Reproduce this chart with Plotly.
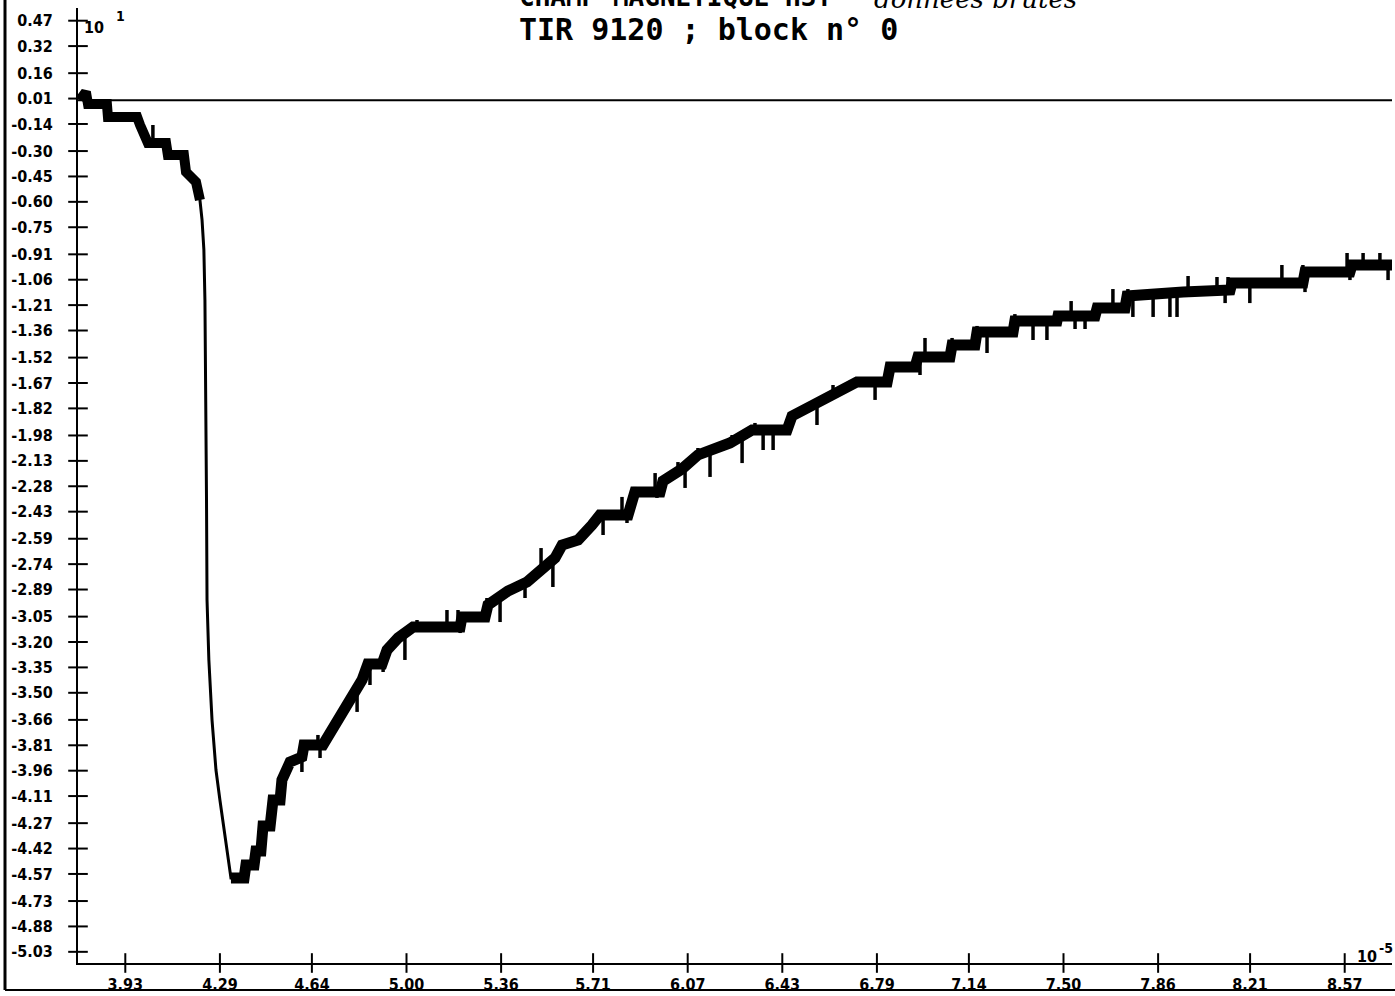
import numpy as np
import plotly.graph_objects as go

# ---- data (time in 10^-5 units, field in 10^1 units) ----
time_vals = [3.758, 3.780, 3.788, 3.860, 3.864, 3.975, 3.986, 4.016, 4.085, 4.092,
             4.153, 4.161, 4.199, 4.214, 4.222, 4.229, 4.233, 4.237, 4.239, 4.241,
             4.248, 4.260, 4.275, 4.290, 4.306, 4.321, 4.332, 4.382, 4.389, 4.420,
             4.427, 4.446, 4.454, 4.481, 4.492, 4.519, 4.526, 4.557, 4.602, 4.610,
             4.682, 4.720, 4.755, 4.785, 4.815, 4.831, 4.853, 4.907, 4.926, 4.968,
             5.025, 5.204, 5.211, 5.299, 5.310, 5.386, 5.459, 5.508, 5.565, 5.592,
             5.653, 5.706, 5.736, 5.843, 5.869, 5.965, 5.976, 6.048, 6.109, 6.231,
             6.315, 6.448, 6.467, 6.547, 6.650, 6.714, 6.829, 6.840, 6.935, 6.946,
             7.068, 7.076, 7.163, 7.171, 7.308, 7.315, 7.475, 7.479, 7.620, 7.628,
             7.734, 7.742, 7.955, 8.134, 8.141, 8.411, 8.419, 8.590, 8.598, 8.750]
field_vals = [0.002, 0.049, -0.022, -0.022, -0.099, -0.099, -0.146, -0.252, -0.252, -0.323,
              -0.323, -0.424, -0.483, -0.589, -0.707, -0.884, -1.180, -1.770, -2.361, -2.952,
              -3.306, -3.661, -3.956, -4.133, -4.310, -4.487, -4.594, -4.594, -4.517, -4.517,
              -4.435, -4.435, -4.287, -4.287, -4.133, -4.133, -4.015, -3.909, -3.879, -3.808,
              -3.808, -3.708, -3.631, -3.554, -3.483, -3.424, -3.330, -3.330, -3.247, -3.176,
              -3.111, -3.111, -3.052, -3.052, -2.981, -2.899, -2.845, -2.774, -2.704, -2.627,
              -2.597, -2.509, -2.450, -2.450, -2.314, -2.314, -2.249, -2.178, -2.095, -2.024,
              -1.948, -1.948, -1.865, -1.800, -1.723, -1.664, -1.664, -1.576, -1.576, -1.516,
              -1.516, -1.446, -1.446, -1.369, -1.369, -1.304, -1.304, -1.274, -1.274, -1.227,
              -1.227, -1.156, -1.133, -1.121, -1.079, -1.079, -1.014, -1.014, -0.973, -0.973]

# noise spikes: time and tip value of each glitch
spike_time = [4.035, 4.602, 4.614, 4.663, 4.671, 4.796, 4.812, 4.861, 4.911, 4.994,
              5.040, 5.154, 5.196, 5.204, 5.306, 5.356, 5.451, 5.512, 5.557, 5.748,
              5.820, 5.839, 5.869, 5.946, 5.953, 6.033, 6.060, 6.109, 6.155, 6.239,
              6.277, 6.326, 6.357, 6.395, 6.562, 6.623, 6.783, 6.954, 6.973, 7.076,
              7.171, 7.209, 7.315, 7.384, 7.437, 7.529, 7.544, 7.582, 7.688, 7.745,
              7.764, 7.841, 7.905, 7.932, 7.974, 8.084, 8.115, 8.126, 8.209, 8.331,
              8.411, 8.419, 8.579, 8.590, 8.640, 8.704, 8.735]
spike_tip = [-0.146, -3.968, -3.820, -3.749, -3.885, -3.525, -3.613, -3.454, -3.377, -3.306,
             -3.070, -3.011, -3.011, -3.147, -2.940, -3.082, -2.940, -2.645, -2.875, -2.568,
             -2.343, -2.497, -2.284, -2.202, -2.349, -2.137, -2.290, -2.054, -2.225, -1.977,
             -2.143, -1.906, -2.066, -2.066, -1.918, -1.682, -1.770, -1.623, -1.404, -1.404,
             -1.333, -1.493, -1.263, -1.416, -1.416, -1.186, -1.351, -1.351, -1.115, -1.115,
             -1.280, -1.280, -1.280, -1.280, -1.038, -1.044, -1.198, -1.044, -1.198, -0.973,
             -0.973, -1.133, -0.902, -1.062, -0.902, -0.902, -1.062]

x_tick_labels = ["3.93", "4.29", "4.64", "5.00", "5.36", "5.71", "6.07", "6.43",
                 "6.79", "7.14", "7.50", "7.86", "8.21", "8.57"]
y_tick_labels = ["0.47", "0.32", "0.16", "0.01", "-0.14", "-0.30", "-0.45", "-0.60",
                 "-0.75", "-0.91", "-1.06", "-1.21", "-1.36", "-1.52", "-1.67", "-1.82",
                 "-1.98", "-2.13", "-2.28", "-2.43", "-2.59", "-2.74", "-2.89", "-3.05",
                 "-3.20", "-3.35", "-3.50", "-3.66", "-3.81", "-3.96", "-4.11", "-4.27",
                 "-4.42", "-4.57", "-4.73", "-4.88", "-5.03"]

title_line1 = "CHAMP MAGNETIQUE H3T -"
title_hand = "données brutes"
title_line2 = "TIR 9120 ; block n° 0"

# ---- layout constants ----
W, H = 1395, 996
ML, MR, MT, MB = 78, 3, 8, 33
X_RANGE = [3.75, 8.75]
Y_RANGE = [-5.096, 0.545]
PW, PH = W - ML - MR, H - MT - MB


def px(xp):
    return (xp - ML) / PW


def py(yp):
    return (H - MB - yp) / PH


xt = [float(s) for s in x_tick_labels]
yt = [float(s) for s in y_tick_labels]

TICKFONT = dict(family="Liberation Sans Narrow, DejaVu Sans Condensed, sans-serif",
                size=16, color="black", weight="bold")

fig = go.Figure()

# thin main curve
fig.add_trace(go.Scatter(x=time_vals, y=field_vals, mode="lines",
                         line=dict(color="black", width=3), hoverinfo="skip",
                         showlegend=False))
# thick noisy (quantised) bands
fig.add_trace(go.Scatter(x=time_vals[:14], y=field_vals[:14], mode="lines",
                         line=dict(color="black", width=10), hoverinfo="skip",
                         showlegend=False))
fig.add_trace(go.Scatter(x=time_vals[26:], y=field_vals[26:], mode="lines",
                         line=dict(color="black", width=11), hoverinfo="skip",
                         showlegend=False))

# glitch spikes, each from the curve to its tip
base = np.interp(spike_time, time_vals, field_vals)
sx, sy = [], []
for t, b, tip in zip(spike_time, base, spike_tip):
    sx += [t, t, None]
    sy += [b, tip, None]
fig.add_trace(go.Scatter(x=sx, y=sy, mode="lines", line=dict(color="black", width=3.5),
                         hoverinfo="skip", showlegend=False, connectgaps=False))

# cross ticks
fig.add_trace(go.Scatter(x=xt, y=[Y_RANGE[0]] * len(xt), mode="markers",
                         marker=dict(symbol="line-ns", size=14,
                                     line=dict(color="black", width=2)),
                         cliponaxis=False, hoverinfo="skip", showlegend=False))
fig.add_trace(go.Scatter(x=[X_RANGE[0]] * len(yt), y=yt, mode="markers",
                         marker=dict(symbol="line-ew", size=14,
                                     line=dict(color="black", width=2)),
                         cliponaxis=False, hoverinfo="skip", showlegend=False))

# zero line
fig.add_shape(type="line", xref="x", yref="y", x0=X_RANGE[0], x1=X_RANGE[1],
              y0=0, y1=0, line=dict(color="black", width=2))

# outer frame (left and bottom)
fig.add_shape(type="line", xref="paper", yref="paper", x0=px(5), x1=px(5),
              y0=py(990), y1=py(0), line=dict(color="black", width=3))
fig.add_shape(type="line", xref="paper", yref="paper", x0=px(5), x1=px(1395),
              y0=py(990), y1=py(990), line=dict(color="black", width=2))

SMALL = "Liberation Sans Narrow, DejaVu Sans Condensed"
ann = []
ann.append(dict(text=title_line1, x=px(517), y=py(-3), xanchor="left", yanchor="middle",
                font=dict(family="DejaVu Sans Mono", size=26, color="black", weight="bold")))
ann.append(dict(text=title_hand, x=px(872), y=py(-1), xanchor="left", yanchor="middle",
                font=dict(family="DejaVu Serif", size=26, color="black", style="italic")))
ann.append(dict(text=title_line2, x=px(517), y=py(30), xanchor="left", yanchor="middle",
                font=dict(family="DejaVu Sans Mono", size=30, color="black", weight="bold")))
ann.append(dict(text="10", x=px(82), y=py(27), xanchor="left", yanchor="middle",
                font=dict(family=SMALL, size=16, color="black", weight="bold")))
ann.append(dict(text="1", x=px(114), y=py(16), xanchor="left", yanchor="middle",
                font=dict(family=SMALL, size=14, color="black", weight="bold")))
ann.append(dict(text="10", x=px(1355), y=py(956), xanchor="left", yanchor="middle",
                font=dict(family=SMALL, size=16, color="black", weight="bold")))
ann.append(dict(text="-5", x=px(1377), y=py(948), xanchor="left", yanchor="middle",
                font=dict(family=SMALL, size=14, color="black", weight="bold")))
for a in ann:
    a.update(xref="paper", yref="paper", showarrow=False)
fig.update_layout(annotations=ann)

fig.update_layout(
    width=W, height=H,
    margin=dict(l=ML, r=MR, t=MT, b=MB, pad=0),
    paper_bgcolor="white", plot_bgcolor="white",
    xaxis=dict(range=X_RANGE, tickvals=xt, ticktext=x_tick_labels, ticks="",
               showgrid=False, zeroline=False, showline=True, linecolor="black",
               linewidth=2, tickfont=TICKFONT, ticklabelstandoff=6),
    yaxis=dict(range=Y_RANGE, tickvals=yt, ticktext=y_tick_labels, ticks="",
               showgrid=False, zeroline=False, showline=True, linecolor="black",
               linewidth=2, tickfont=TICKFONT, ticklabelstandoff=20),
)

fig.write_html("out.html", config={"displayModeBar": False},
               post_script="document.body.style.margin='0';document.body.style.overflow='hidden';")
